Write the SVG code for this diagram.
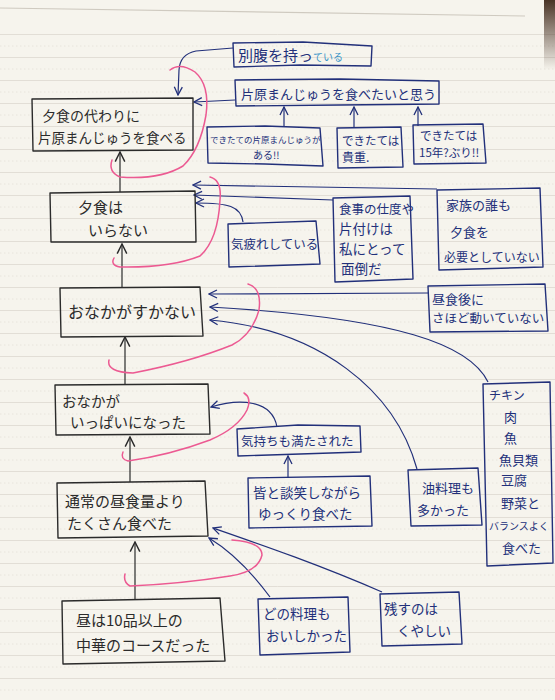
<svg xmlns="http://www.w3.org/2000/svg" width="555" height="700" viewBox="0 0 555 700">
<defs>
<pattern id="ruled" x="0" y="34" width="555" height="23" patternUnits="userSpaceOnUse">
<line x1="0" y1="0.5" x2="555" y2="0.5" stroke="#e2ded6" stroke-width="1"/>
<line x1="0" y1="12" x2="555" y2="12" stroke="#e8e4dc" stroke-width="1" stroke-dasharray="1.5 2.5"/>
</pattern>
<linearGradient id="edge" x1="0" y1="0" x2="0" y2="1">
<stop offset="0" stop-color="#4a3426"/>
<stop offset="1" stop-color="#4a3426" stop-opacity="0"/>
</linearGradient>
<marker id="ab" viewBox="0 0 10 10" refX="9" refY="5" markerWidth="10" markerHeight="10" markerUnits="userSpaceOnUse" orient="auto">
<path d="M1,1 L9,5 L1,9" fill="none" stroke="#22307a" stroke-width="1.3"/>
</marker>
<marker id="ak" viewBox="0 0 10 10" refX="9" refY="5" markerWidth="12" markerHeight="12" markerUnits="userSpaceOnUse" orient="auto">
<path d="M1,1 L9,5 L1,9" fill="none" stroke="#2b2b2b" stroke-width="1.2"/>
</marker>
</defs>
<style>
.bk{fill:none;stroke:#2b2b2b;stroke-width:1.4;stroke-linejoin:round}
.bl{fill:none;stroke:#22307a;stroke-width:1.4;stroke-linejoin:round}
.tk{fill:#2b2b2b;font-family:"Noto Sans CJK JP","Noto Sans",sans-serif}
.tb{fill:#22307a;font-family:"Noto Sans CJK JP","Noto Sans",sans-serif}
.cb{fill:none;stroke:#22307a;stroke-width:1.2;marker-end:url(#ab)}
.ck{fill:none;stroke:#2b2b2b;stroke-width:1.2;marker-end:url(#ak)}
.pk{fill:none;stroke:#ec5a92;stroke-width:1.5;stroke-linecap:round}
</style>
<rect x="0" y="0" width="555" height="700" fill="#f6f4ed"/>
<rect x="0" y="34" width="555" height="666" fill="url(#ruled)"/>
<line x1="0" y1="8" x2="525" y2="16" stroke="#cfcac0" stroke-width="1.2"/>
<rect x="544" y="0" width="11" height="70" fill="url(#edge)"/>

<g id="connectors">
<path class="ck" d="M135,600 L135,542"/>
<path class="ck" d="M130,482 L130,437"/>
<path class="ck" d="M125,384 L125,337"/>
<path class="ck" d="M122,288 L122,244"/>
<path class="ck" d="M120,192 L120,152"/>
<path class="cb" d="M233,48 L196,51 Q180,54 179,70 L178,95"/>
<path class="cb" d="M235,100 L194,102"/>
<path class="cb" d="M284,127 L284,107"/>
<path class="cb" d="M354,128 L354,107"/>
<path class="cb" d="M418,126 L418,107"/>
<path class="cb" d="M437,189 L193,185"/>
<path class="cb" d="M333,200 L194,195"/>
<path class="cb" d="M243,222 C241,206 228,203 196,203"/>
<path class="cb" d="M428,293 L209,294"/>
<path class="cb" d="M488,382 C470,345 400,318 210,307"/>
<path class="cb" d="M417,469 C395,390 320,330 210,320"/>
<path class="cb" d="M277,427 C272,400 240,398 211,407"/>
<path class="cb" d="M288,477 L288,456"/>
<path class="cb" d="M270,597 C250,570 232,552 209,538"/>
<path class="cb" d="M382,592 C320,565 262,545 213,528"/>
<path class="pk" d="M170,70 Q180,62 195,72 Q210,85 206,115 Q200,150 183,166 Q160,180 120,177 Q108,172 112,160"/>
<path class="pk" d="M210,177 Q222,180 220,200 Q218,240 200,256 Q170,268 120,267 Q110,265 114,258"/>
<path class="pk" d="M248,284 Q262,288 259,310 Q252,335 232,345 Q190,362 133,373 Q106,372 109,360"/>
<path class="pk" d="M244,393 Q252,398 247,410 Q238,428 210,440 Q170,455 128,461 Q120,459 123,452"/>
<path class="pk" d="M232,540 Q262,542 262,555 Q258,572 230,576 Q180,584 130,586 Q123,582 125,574"/>
</g>

<g id="n-betsubara">
<path class="bl" d="M233,43 L303,42 L372,46 L371,66 L300,65 L234,67 Z"/>
<text class="tb" x="238" y="61" font-size="15">別腹を持っ<tspan fill="#3a95c8" font-size="10">ている</tspan></text>
</g>
<g id="n-tabetai">
<path class="bl" d="M235,80 L340,79 L439,81 L439,104 L340,105 L236,106 Z"/>
<text class="tb" x="241" y="99" font-size="13">片原まんじゅうを食べたいと思う</text>
</g>
<g id="n-kawari">
<path class="bk" d="M32,99 L193,98 L193,150 L33,151 Z"/>
<text class="tk" x="42" y="121" font-size="14">夕食の代わりに</text>
<text class="tk" x="38" y="143" font-size="13.5">片原まんじゅうを食べる</text>
</g>
<g id="n-dekitate">
<path class="bl" d="M207,127 L265,126 L320,128 L323,166 L265,164 L208,163 Z"/>
<text class="tb" x="210" y="143" font-size="8.5">できたての片原まんじゅうが</text>
<text class="tb" x="253" y="159" font-size="10">ある!!</text>
</g>
<g id="n-kichou">
<path class="bl" d="M337,128 L401,127 L403,167 L338,168 Z"/>
<text class="tb" x="342" y="145" font-size="11.5">できたては</text>
<text class="tb" x="342" y="162" font-size="12">貴重.</text>
</g>
<g id="n-15nen">
<path class="bl" d="M413,125 L483,124 L486,163 L414,164 Z"/>
<text class="tb" x="420" y="140" font-size="11.5">できたては</text>
<text class="tb" x="419" y="157" font-size="11.5">15年?ぶり!!</text>
</g>
<g id="n-yushoku">
<path class="bk" d="M50,193 L195,191 L196,242 L51,242 Z"/>
<text class="tk" x="78" y="213" font-size="15">夕食は</text>
<text class="tk" x="88" y="236" font-size="15">いらない</text>
</g>
<g id="n-kizukare">
<path class="bl" d="M228,224 L316,221 L320,264 L229,267 Z"/>
<text class="tb" x="231" y="249" font-size="12.5">気疲れしている</text>
</g>
<g id="n-mendou">
<path class="bl" d="M333,198 L410,196 L413,279 L335,282 Z"/>
<text class="tb" x="339" y="214" font-size="12.5">食事の仕度や</text>
<text class="tb" x="339" y="234" font-size="13.5">片付けは</text>
<text class="tb" x="339" y="254" font-size="13.5">私にとって</text>
<text class="tb" x="341" y="274" font-size="13.5">面倒だ</text>
</g>
<g id="n-kazoku">
<path class="bl" d="M437,190 L540,188 L543,267 L439,270 Z"/>
<text class="tb" x="446" y="210" font-size="13">家族の誰も</text>
<text class="tb" x="450" y="237" font-size="13">夕食を</text>
<text class="tb" x="444" y="262" font-size="12">必要としていない</text>
</g>
<g id="n-sukanai">
<path class="bk" d="M60,288 L200,287 L203,336 L61,337 Z"/>
<text class="tk" x="68" y="318" font-size="16">おなかがすかない</text>
</g>
<g id="n-chushokugo">
<path class="bl" d="M428,286 L545,284 L548,331 L430,332 Z"/>
<text class="tb" x="432" y="304" font-size="13">昼食後に</text>
<text class="tb" x="432" y="323" font-size="12.5">さほど動いていない</text>
</g>
<g id="n-ippai">
<path class="bk" d="M55,385 L208,384 L210,434 L56,435 Z"/>
<text class="tk" x="62" y="407" font-size="14.5">おなかが</text>
<text class="tk" x="70" y="428" font-size="14.5">いっぱいになった</text>
</g>
<g id="n-kimochi">
<path class="bl" d="M237,429 L298,425 L360,426 L361,452 L300,454 L238,456 Z"/>
<text class="tb" x="241" y="446" font-size="12.5">気持ちも満たされた</text>
</g>
<g id="n-danshou">
<path class="bl" d="M248,478 L370,476 L372,526 L249,528 Z"/>
<text class="tb" x="253" y="498" font-size="13.5">皆と談笑しながら</text>
<text class="tb" x="258" y="519" font-size="13.5">ゆっくり食べた</text>
</g>
<g id="n-abura">
<path class="bl" d="M408,470 L478,468 L482,525 L411,526 Z"/>
<text class="tb" x="422" y="493" font-size="13">油料理も</text>
<text class="tb" x="417" y="515" font-size="13">多かった</text>
</g>
<g id="n-chicken">
<path class="bl" d="M483,384 L550,382 L553,563 L487,566 Z"/>
<text class="tb" x="489" y="400" font-size="12">チキン</text>
<text class="tb" x="504" y="422" font-size="13">肉</text>
<text class="tb" x="504" y="443" font-size="13">魚</text>
<text class="tb" x="499" y="465" font-size="13">魚貝類</text>
<text class="tb" x="501" y="485" font-size="13">豆腐</text>
<text class="tb" x="501" y="508" font-size="13">野菜と</text>
<text class="tb" x="489" y="530" font-size="10">バランスよく</text>
<text class="tb" x="502" y="553" font-size="13">食べた</text>
</g>
<g id="n-tsujou">
<path class="bk" d="M57,483 L205,481 L208,536 L58,538 Z"/>
<text class="tk" x="65" y="507" font-size="15">通常の昼食量より</text>
<text class="tk" x="67" y="529" font-size="15">たくさん食べた</text>
</g>
<g id="n-chuka">
<path class="bk" d="M62,601 L220,598 L225,661 L63,664 Z"/>
<text class="tk" x="76" y="626" font-size="15">昼は10品以上の</text>
<text class="tk" x="76" y="651" font-size="15">中華のコースだった</text>
</g>
<g id="n-oishii">
<path class="bl" d="M258,599 L348,597 L350,652 L260,655 Z"/>
<text class="tb" x="263" y="619" font-size="13.5">どの料理も</text>
<text class="tb" x="266" y="641" font-size="13.5">おいしかった</text>
</g>
<g id="n-kuyashii">
<path class="bl" d="M380,594 L459,592 L462,644 L382,646 Z"/>
<text class="tb" x="384" y="614" font-size="13.5">残すのは</text>
<text class="tb" x="397" y="636" font-size="13.5">くやしい</text>
</g>
</svg>
